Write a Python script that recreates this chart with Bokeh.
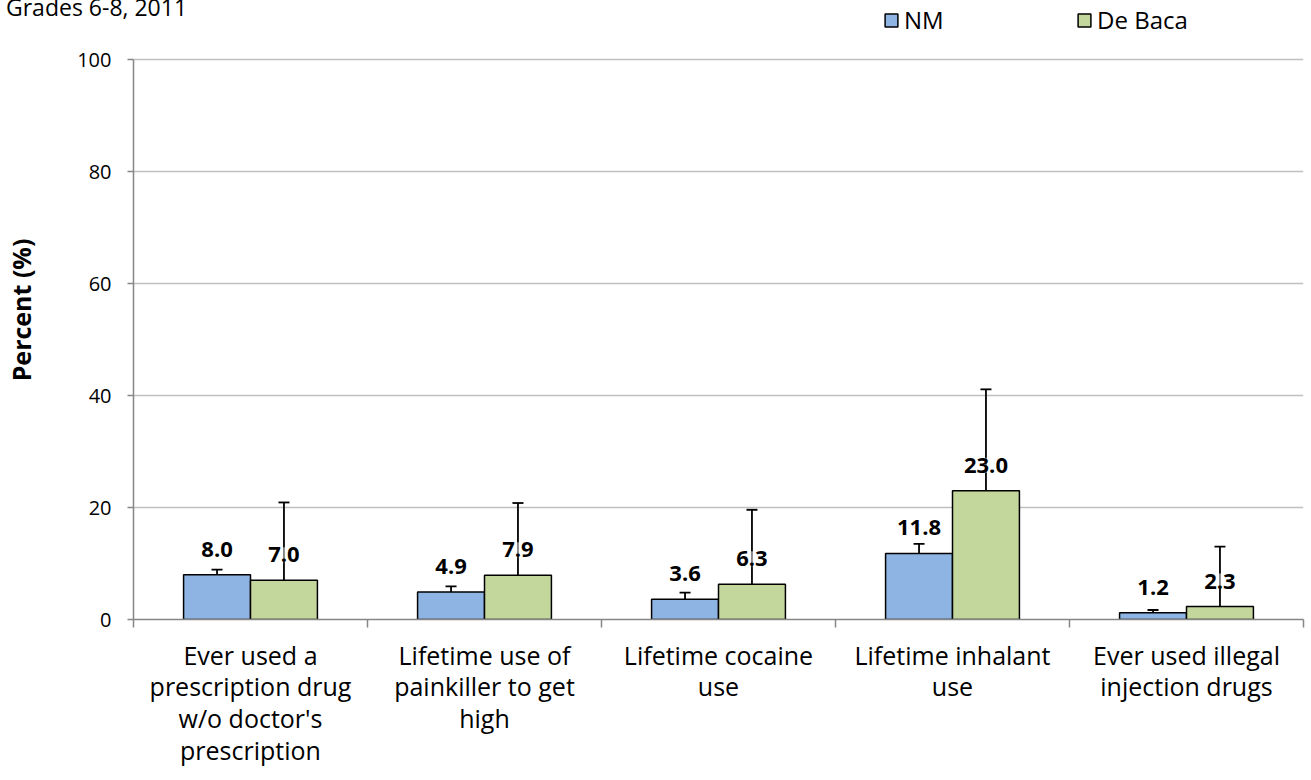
from bokeh.plotting import figure
from bokeh.layouts import column
from bokeh.models import (ColumnDataSource, Whisker, LabelSet, Legend, LegendItem,
                          FixedTicker, Div, Range1d, TeeHead)
from bokeh.transform import dodge
from bokeh.core.properties import value
from bokeh.embed import file_html
from bokeh.resources import INLINE

# ---- data ----
categories = [
    "Ever used a\nprescription drug\nw/o doctor's\nprescription",
    "Lifetime use of\npainkiller to get\nhigh",
    "Lifetime cocaine\nuse",
    "Lifetime inhalant\nuse",
    "Ever used illegal\ninjection drugs",
]
series_names = ["NM", "De Baca"]
nm_values = [8.0, 4.9, 3.6, 11.8, 1.2]
nm_lower = [7.5, 4.3, 3.0, 10.5, 0.9]
nm_upper = [8.9, 5.9, 4.8, 13.5, 1.7]
db_values = [7.0, 7.9, 6.3, 23.0, 2.3]
db_lower = [2.4, 3.0, 2.0, 11.7, 0.6]
db_upper = [20.9, 20.8, 19.6, 41.1, 13.0]
y_ticks = [0, 20, 40, 60, 80, 100]
subtitle = "Grades 6-8, 2011"
y_title = "Percent (%)"

FONT = "Open Sans"
NM_COLOR = "#8EB4E3"
DB_COLOR = "#C3D69B"
AXIS_GRAY = "#868686"
GRID_GRAY = "#C0C0C0"

idx = list(range(len(categories)))
bar_w = 0.286
off = bar_w / 2

# layout: plot area 560 px tall for 0..100; the frame also covers the 59 px header strip
FRAME_TOP_PAD = 59
PX_PER_UNIT = 560 / 100

src = ColumnDataSource(dict(
    x=idx,
    nm=nm_values, nm_lo=nm_lower, nm_up=nm_upper,
    db=db_values, db_lo=db_lower, db_up=db_upper,
    nm_txt=[f"{v:.1f}" for v in nm_values],
    db_txt=[f"{v:.1f}" for v in db_values],
))

fig = figure(width=1311, height=780,
             x_range=Range1d(-0.5, len(categories) - 0.5),
             y_range=Range1d(0, 100 + FRAME_TOP_PAD / PX_PER_UNIT),
             output_backend="svg", toolbar_location=None,
             min_border_left=133, min_border_right=8, min_border_top=0, min_border_bottom=161)
fig.outline_line_color = None
fig.background_fill_color = "white"
fig.border_fill_color = "white"

# x axis
fig.xaxis.ticker = FixedTicker(ticks=idx, minor_ticks=[i - 0.5 for i in range(len(categories) + 1)])
fig.xaxis.major_label_overrides = {i: c for i, c in enumerate(categories)}
fig.xaxis.major_tick_line_color = None
fig.xaxis.major_tick_out = 0
fig.xaxis.major_tick_in = 0
fig.xaxis.minor_tick_out = 8
fig.xaxis.minor_tick_in = 0
fig.xaxis.minor_tick_line_color = AXIS_GRAY
fig.xaxis.minor_tick_line_width = 1.5
fig.xaxis.axis_line_color = AXIS_GRAY
fig.xaxis.axis_line_width = 1.5
fig.xaxis.major_label_text_font = FONT
fig.xaxis.major_label_text_font_size = "25px"
fig.xaxis.major_label_text_color = "black"
fig.xaxis.major_label_text_line_height = 0.94
fig.xaxis.major_label_standoff = 10
fig.xgrid.visible = False

# y axis
fig.yaxis.ticker = FixedTicker(ticks=y_ticks)
fig.yaxis.bounds = (y_ticks[0], y_ticks[-1])
fig.yaxis.minor_tick_line_color = None
fig.yaxis.major_tick_out = 6
fig.yaxis.major_tick_in = 0
fig.yaxis.major_tick_line_color = AXIS_GRAY
fig.yaxis.major_tick_line_width = 1.5
fig.yaxis.axis_line_color = AXIS_GRAY
fig.yaxis.axis_line_width = 1.5
fig.yaxis.major_label_text_font = FONT
fig.yaxis.major_label_text_font_size = "20px"
fig.yaxis.major_label_text_color = "black"
fig.yaxis.major_label_standoff = 16
fig.yaxis.axis_label = y_title
fig.yaxis.axis_label_text_font = FONT
fig.yaxis.axis_label_text_font_size = "25px"
fig.yaxis.axis_label_text_font_style = "bold"
fig.yaxis.axis_label_text_color = "black"
fig.yaxis.axis_label_standoff = 36
fig.ygrid.grid_line_color = GRID_GRAY
fig.ygrid.grid_line_width = 1.5

# bars
r_nm = fig.vbar(x=dodge("x", -off, range=fig.x_range), top="nm", width=bar_w, source=src,
                fill_color=NM_COLOR, line_color="black", line_width=1.5)
r_db = fig.vbar(x=dodge("x", off, range=fig.x_range), top="db", width=bar_w, source=src,
                fill_color=DB_COLOR, line_color="black", line_width=1.5)

# error bars
for key, sign in (("nm", -1), ("db", 1)):
    w = Whisker(base=dodge("x", sign * off, range=fig.x_range), lower=f"{key}_lo", upper=f"{key}_up",
                source=src, line_color="black", line_width=1.8,
                upper_head=TeeHead(size=11, line_color="black", line_width=1.8),
                lower_head=TeeHead(size=11, line_color="black", line_width=1.8))
    fig.add_layout(w)

# value labels
for key, sign in (("nm", -1), ("db", 1)):
    ls = LabelSet(x=dodge("x", sign * off, range=fig.x_range), y=key, text=f"{key}_txt", source=src,
                  y_offset=18, text_align="center", text_baseline="alphabetic",
                  text_font=value(FONT), text_font_style="bold", text_font_size="22px",
                  text_color="black", background_fill_color="white", background_fill_alpha=0.5)
    fig.add_layout(ls)

# legend (inside the frame's header strip)
legend = Legend(items=[LegendItem(label=series_names[0], renderers=[r_nm]),
                       LegendItem(label=series_names[1], renderers=[r_db])],
                orientation="horizontal", location=(750, 583), padding=0, margin=0,
                border_line_color=None, background_fill_alpha=0,
                glyph_width=16, glyph_height=16, label_standoff=5, label_width=160, spacing=12,
                label_text_font=FONT, label_text_font_size="24px", label_text_color="black")
fig.add_layout(legend)

# subtitle, laid over the top-left corner (cut off at the top, as in the original)
subtitle_div = Div(text=subtitle, width=300, height=24, margin=(0, 0, 0, 0),
                   styles={"position": "absolute", "top": "0px", "left": "0px",
                           "font-family": FONT, "font-size": "23px", "line-height": "15px",
                           "color": "black", "padding-left": "6px", "white-space": "nowrap",
                           "z-index": "10"})

p = column(fig, subtitle_div)
open("out.html", "w").write(file_html(p, INLINE))
